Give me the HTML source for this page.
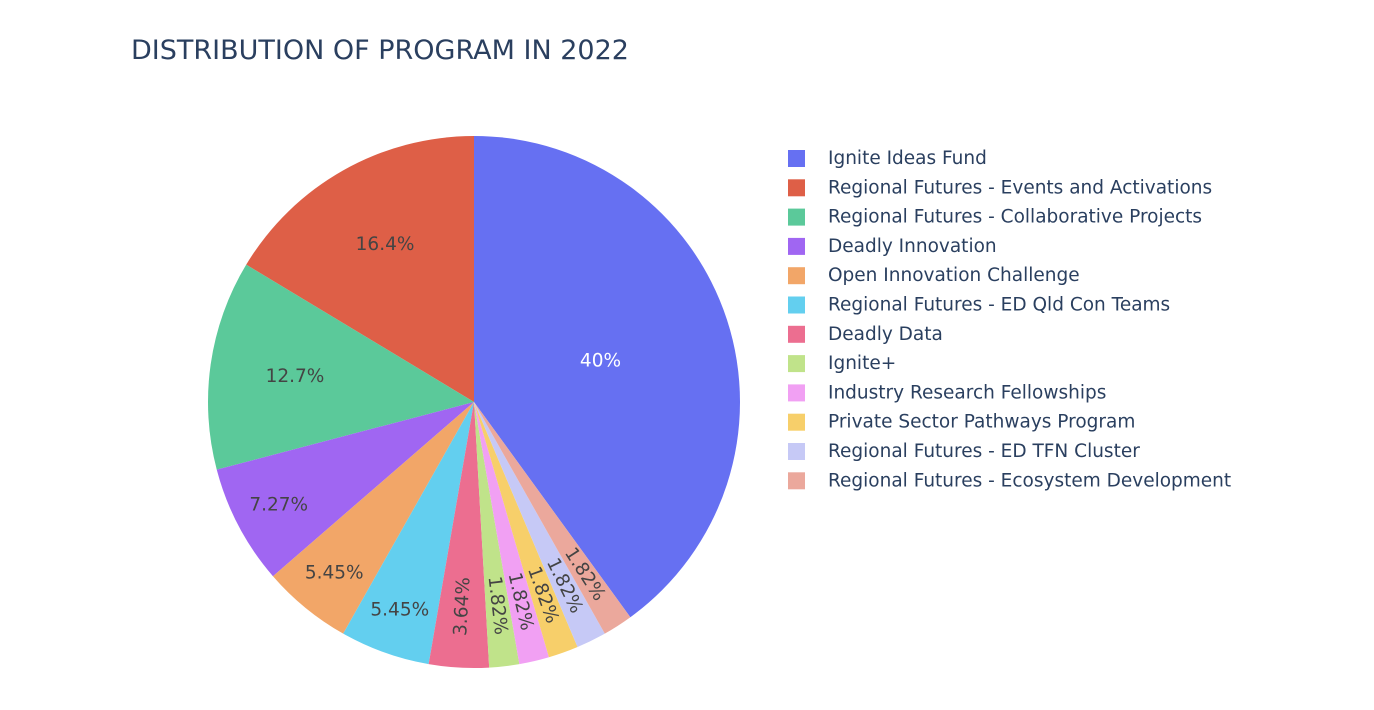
<!DOCTYPE html>
<html><head><meta charset="utf-8"><style>
body{margin:0;background:#fff;}
svg{display:block;font-family:"DejaVu Sans","Liberation Sans",sans-serif;}
</style></head><body>
<svg id="chart" width="1374" height="710">
<text x="131" y="59" font-size="27" fill="#2a3f5f">DISTRIBUTION OF PROGRAM IN 2022</text>
<g id="pie"></g>
<g id="legend"></g>
</svg>
<script>
const categories=["Ignite Ideas Fund","Regional Futures - Events and Activations","Regional Futures - Collaborative Projects","Deadly Innovation","Open Innovation Challenge","Regional Futures - ED Qld Con Teams","Deadly Data","Ignite+","Industry Research Fellowships","Private Sector Pathways Program","Regional Futures - ED TFN Cluster","Regional Futures - Ecosystem Development"];
const values=[22,9,7,4,3,3,2,1,1,1,1,1];
const colors=["#6670f2","#de5f47","#5bc99a","#a066f2","#f2a668","#63cfef","#ec6e90","#c0e38a","#f1a0f3","#f7cf6a","#c6c9f6","#eba89c"];
const NS="http://www.w3.org/2000/svg";
const cx=474,cy=402,R=266;
const total=values.reduce((a,b)=>a+b,0);
const pie=document.getElementById('pie');
function pt(a,r){const t=a*Math.PI/180;return [cx+r*Math.sin(t),cy-r*Math.cos(t)];}
function fmt(p){let s=p.toPrecision(3);s=String(parseFloat(s));return s+"%";}
let start=values[0]/total*360;
values.forEach((v,i)=>{
  const span=v/total*360;
  const a1=start,a2=start-span;
  const p1=pt(a1,R),p2=pt(a2,R);
  const large=span>180?1:0;
  const path=document.createElementNS(NS,'path');
  path.setAttribute('d',`M${cx},${cy} L${p1[0]},${p1[1]} A${R},${R} 0 ${large} 0 ${p2[0]},${p2[1]} Z`);
  path.setAttribute('fill',colors[i]);
  
  
  pie.appendChild(path);
  const mid=((a1+a2)/2+360)%360;
  const frac=v/total;
  let rf=frac>0.3?0.5:frac>0.1?0.68:frac>0.045?0.83:0.77;
  const tp=pt(mid,R*rf);
  const t=document.createElementNS(NS,'text');
  t.setAttribute('x',tp[0]);t.setAttribute('y',tp[1]);
  t.setAttribute('text-anchor','middle');t.setAttribute('dominant-baseline','central');
  t.setAttribute('font-size','18.5');
  t.setAttribute('fill',i===0?'#ffffff':'#444444');
  if(frac<0.045){let rot=mid-90;if(rot>90)rot-=180;if(rot<-90)rot+=180;t.setAttribute('transform',`rotate(${rot} ${tp[0]} ${tp[1]})`);}
  t.textContent=fmt(frac*100);
  
  
  pie.appendChild(t);
  start=a2;
});
const lg=document.getElementById('legend');
categories.forEach((c,i)=>{
  const y=158+i*29.3;
  const g=document.createElementNS(NS,'g');
  
  
  const r=document.createElementNS(NS,'rect');
  r.setAttribute('x',788);r.setAttribute('y',y-8);r.setAttribute('width',17);r.setAttribute('height',17);r.setAttribute('fill',colors[i]);
  g.appendChild(r);
  const t=document.createElementNS(NS,'text');
  t.setAttribute('x',828);t.setAttribute('y',y+6);t.setAttribute('font-size','18.5');t.setAttribute('fill','#2a3f5f');
  t.textContent=c;g.appendChild(t);
  lg.appendChild(g);
});
</script>
</body></html>
